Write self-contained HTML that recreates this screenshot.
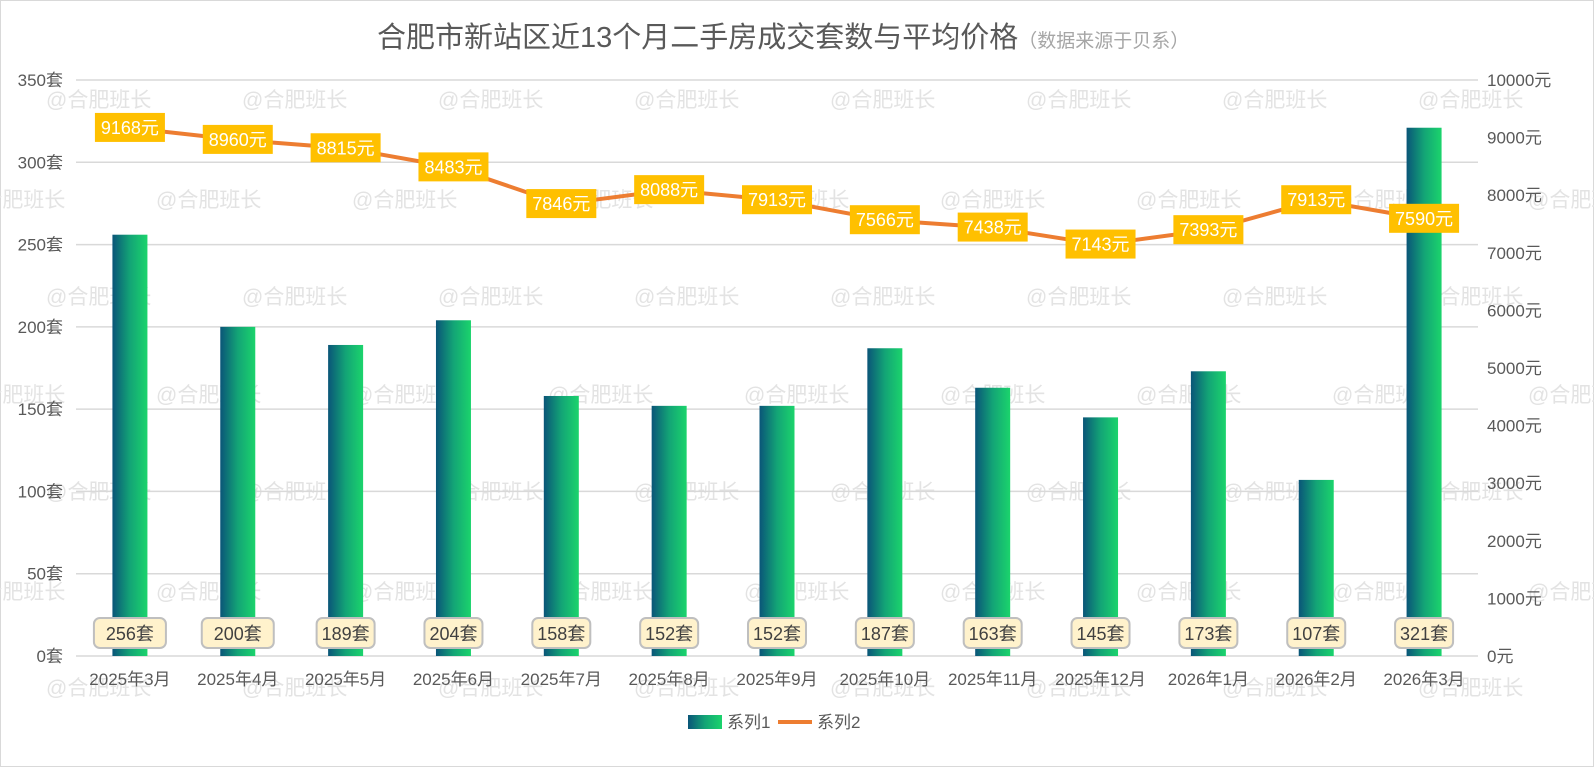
<!DOCTYPE html>
<html><head><meta charset="utf-8">
<style>
html,body{margin:0;padding:0;background:#fff;}
svg{display:block;font-family:"Liberation Sans","Noto Sans CJK SC",sans-serif;}
</style></head>
<body>
<svg id="chart" width="1594" height="767" viewBox="0 0 1594 767">
<defs>
<linearGradient id="bg" x1="0" x2="1" y1="0" y2="0">
<stop offset="0" stop-color="#0a5578"/><stop offset="0.5" stop-color="#13a476"/><stop offset="1" stop-color="#1bd46c"/>
</linearGradient>
</defs>
<rect x="0.5" y="0.5" width="1593" height="766" fill="#fff" stroke="#d9d9d9"/>
<g id="wm"></g>
<g id="grid"></g>
<g id="bars"></g>
<g id="line"></g>
<g id="labels"></g>
<text x="377" y="47" font-size="29" fill="#595959">合肥市新站区近13个月二手房成交套数与平均价格<tspan font-size="19" fill="#a6a6a6">（数据来源于贝系）</tspan></text>
<g>
<rect x="688" y="715" width="34" height="14" fill="url(#bg)"/>
<text x="727" y="728" font-size="17" fill="#595959">系列1</text>
<line x1="778" y1="722" x2="812" y2="722" stroke="#ed7d31" stroke-width="4"/>
<text x="817" y="728" font-size="17" fill="#595959">系列2</text>
</g>
</svg>
<script>
const categories=["2025年3月","2025年4月","2025年5月","2025年6月","2025年7月","2025年8月","2025年9月","2025年10月","2025年11月","2025年12月","2026年1月","2026年2月","2026年3月"];
const counts=[256,200,189,204,158,152,152,187,163,145,173,107,321];
const prices=[9168,8960,8815,8483,7846,8088,7913,7566,7438,7143,7393,7913,7590];
const leftTicks=[0,50,100,150,200,250,300,350];
const rightTicks=[0,1000,2000,3000,4000,5000,6000,7000,8000,9000,10000];
const NS="http://www.w3.org/2000/svg";
const L=76,R=1478,T=80,B=656;
const step=(R-L)/categories.length;
const xc=i=>L+step*(i+0.5);
const yL=v=>B-(v/350)*(B-T);
const yR=v=>B-(v/10000)*(B-T);
function mk(tag,attrs,parent,txt){const e=document.createElementNS(NS,tag);for(const k in attrs)e.setAttribute(k,attrs[k]);if(txt!=null)e.textContent=txt;parent.appendChild(e);return e;}
const wm=document.getElementById('wm'),grid=document.getElementById('grid'),bars=document.getElementById('bars'),line=document.getElementById('line'),labels=document.getElementById('labels');
const wmRows=[100,200,297,395,492,592,688];
wmRows.forEach((y,r)=>{const off=r%2===0?46:-40;for(let x=off;x<1600;x+=196){const t=mk('text',{x:x,y:y+7,'font-size':21,fill:'#e3e3e3'},wm,'@合肥班长');

}});
leftTicks.forEach(v=>{const y=yL(v);const g=mk('line',{x1:L,x2:R,y1:y,y2:y,stroke:'#d9d9d9','stroke-width':1.5},grid);


const t=mk('text',{x:63,y:y+6,'font-size':17,fill:'#595959','text-anchor':'end'},grid,v+'套');

});
rightTicks.forEach(v=>{const t=mk('text',{x:1487,y:yR(v)+6,'font-size':17,fill:'#595959'},grid,v+'元');

});
categories.forEach((c,i)=>{const t=mk('text',{x:xc(i),y:685,'font-size':17,fill:'#595959','text-anchor':'middle'},grid,c);

});
counts.forEach((v,i)=>{const y=yL(v);const b=mk('rect',{x:xc(i)-17.5,y:y,width:35,height:B-y,fill:'url(#bg)'},bars);


const txt=v+'套';const bw=(i<2)?72:58;
const r=mk('rect',{x:xc(i)-bw/2,y:618,width:bw,height:30,rx:6,fill:'#fff2cc',stroke:'#bfbfbf','stroke-width':2},labels);


const t=mk('text',{x:xc(i),y:640,'font-size':18,fill:'#404040','text-anchor':'middle'},labels,txt);

});
const pts=prices.map((v,i)=>xc(i)+','+yR(v)).join(' ');
const pl=mk('polyline',{points:pts,fill:'none',stroke:'#ed7d31','stroke-width':4,'stroke-linejoin':'round'},line);


prices.forEach((v,i)=>{const y=yR(v);const r=mk('rect',{x:xc(i)-35,y:y-15,width:70,height:29,fill:'#ffc000'},labels);


const t=mk('text',{x:xc(i),y:y+6,'font-size':18,fill:'#fff','text-anchor':'middle'},labels,v+'元');

});
</script>
</body></html>
